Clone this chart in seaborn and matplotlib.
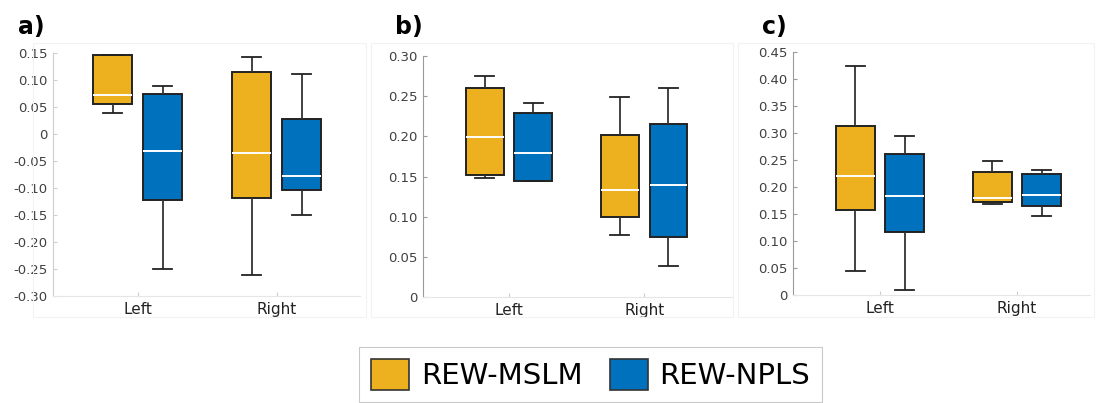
import numpy as np
import pandas as pd
import seaborn as sns
import matplotlib.pyplot as plt
from matplotlib.patches import Patch, Rectangle
from matplotlib.ticker import FuncFormatter

sides = ['Left', 'Right']
methods = ['REW-MSLM', 'REW-NPLS']
colors = ['#EDB120', '#0072BD']

# five-number summaries per side: min, q1, median, q3, max
a_mslm = [[0.038, 0.056, 0.072, 0.147, 0.147], [-0.262, -0.119, -0.036, 0.114, 0.143]]
a_npls = [[-0.250, -0.1225, -0.032, 0.075, 0.088], [-0.150, -0.104, -0.078, 0.027, 0.111]]
b_mslm = [[0.148, 0.152, 0.199, 0.2605, 0.2745], [0.077, 0.0997, 0.1337, 0.202, 0.2485]]
b_npls = [[0.145, 0.145, 0.179, 0.229, 0.241], [0.0386, 0.0747, 0.1388, 0.2148, 0.2605]]
c_mslm = [[0.045, 0.158, 0.2195, 0.3134, 0.4234], [0.1694, 0.1725, 0.180, 0.2275, 0.2473]]
c_npls = [[0.009, 0.1175, 0.183, 0.2615, 0.2943], [0.146, 0.1639, 0.1849, 0.2232, 0.2318]]

a_ticks = [-0.30, -0.25, -0.20, -0.15, -0.10, -0.05, 0, 0.05, 0.10, 0.15]
b_ticks = [0, 0.05, 0.10, 0.15, 0.20, 0.25, 0.30]
c_ticks = [0, 0.05, 0.10, 0.15, 0.20, 0.25, 0.30, 0.35, 0.40, 0.45]


def to_frame(mslm, npls):
    rows = []
    for name, vals in zip(methods, [mslm, npls]):
        for side, five in zip(sides, vals):
            for v in five:
                rows.append({'side': side, 'method': name, 'value': v})
    return pd.DataFrame(rows)


W, H = 1096, 403
fig = plt.figure(figsize=(W / 100, H / 100), dpi=100)

# faint panel frames
for x0, x1 in [(33, 366), (371, 733), (738, 1094)]:
    fig.add_artist(Rectangle((x0 / W, 1 - 317 / H), (x1 - x0) / W, (317 - 43) / H,
                             transform=fig.transFigure, fill=False, ec='#f2f2f2', lw=0.8))

panels = [
    ('a)', a_mslm, a_npls, a_ticks, (53, 360, 53, 296), (-0.61, 1.60), '#cfcfcf', 18),
    ('b)', b_mslm, b_npls, b_ticks, (423, 732, 56, 297), (-0.637, 1.65), '#9a9a9a', 395),
    ('c)', c_mslm, c_npls, c_ticks, (793, 1090, 52, 295), (-0.635, 1.533), '#9a9a9a', 762),
]

for label, mslm, npls, ticks, (x0, x1, y0, y1), xlim, spc, lx in panels:
    ax = fig.add_axes([x0 / W, 1 - y1 / H, (x1 - x0) / W, (y1 - y0) / H])
    df = to_frame(mslm, npls)
    sns.boxplot(data=df, x='side', y='value', hue='method', palette=colors, saturation=1,
                whis=np.inf, width=0.72, gap=0.22, linewidth=1.4, linecolor='#222222',
                medianprops={'color': 'white', 'linewidth': 1.4},
                whiskerprops={'color': '#333333', 'linewidth': 1.3},
                capprops={'color': '#222222', 'linewidth': 1.3},
                legend=False, ax=ax)
    ax.set_xlim(*xlim)
    ax.set_ylim(ticks[0], ticks[-1])
    ax.set_yticks(ticks)
    ax.yaxis.set_major_formatter(FuncFormatter(lambda v, p: '0' if abs(v) < 1e-9 else f'{v:.2f}'))
    ax.set_xlabel('')
    ax.set_ylabel('')
    for s in ['top', 'right']:
        ax.spines[s].set_visible(False)
    ax.spines['left'].set_color(spc)
    ax.spines['bottom'].set_color('#e6e6e6')
    ax.tick_params(axis='y', direction='in', length=3, color=spc, labelsize=9.5,
                   labelcolor='#404040', pad=4)
    ax.tick_params(axis='x', direction='in', length=3, color='#cccccc', labelsize=11,
                   labelcolor='#222222', pad=4)
    ax.set_facecolor('white')
    fig.text(lx / W, 1 - 34 / H, label, fontsize=17, fontweight='bold')

handles = [Patch(facecolor=c, edgecolor='#333333', lw=1.2, label=m) for c, m in zip(colors, methods)]
leg = fig.legend(handles=handles, loc='upper center', bbox_to_anchor=(0.539, 1 - 347 / H), ncol=2,
                 fontsize=21, handlelength=1.3, handleheight=1.3, handletextpad=0.4,
                 columnspacing=0.95, borderpad=0.4, borderaxespad=0, frameon=True, fancybox=False)
leg.get_frame().set_edgecolor('#bbbbbb')
leg.get_frame().set_linewidth(0.8)

fig.savefig('out.png', dpi=100)
